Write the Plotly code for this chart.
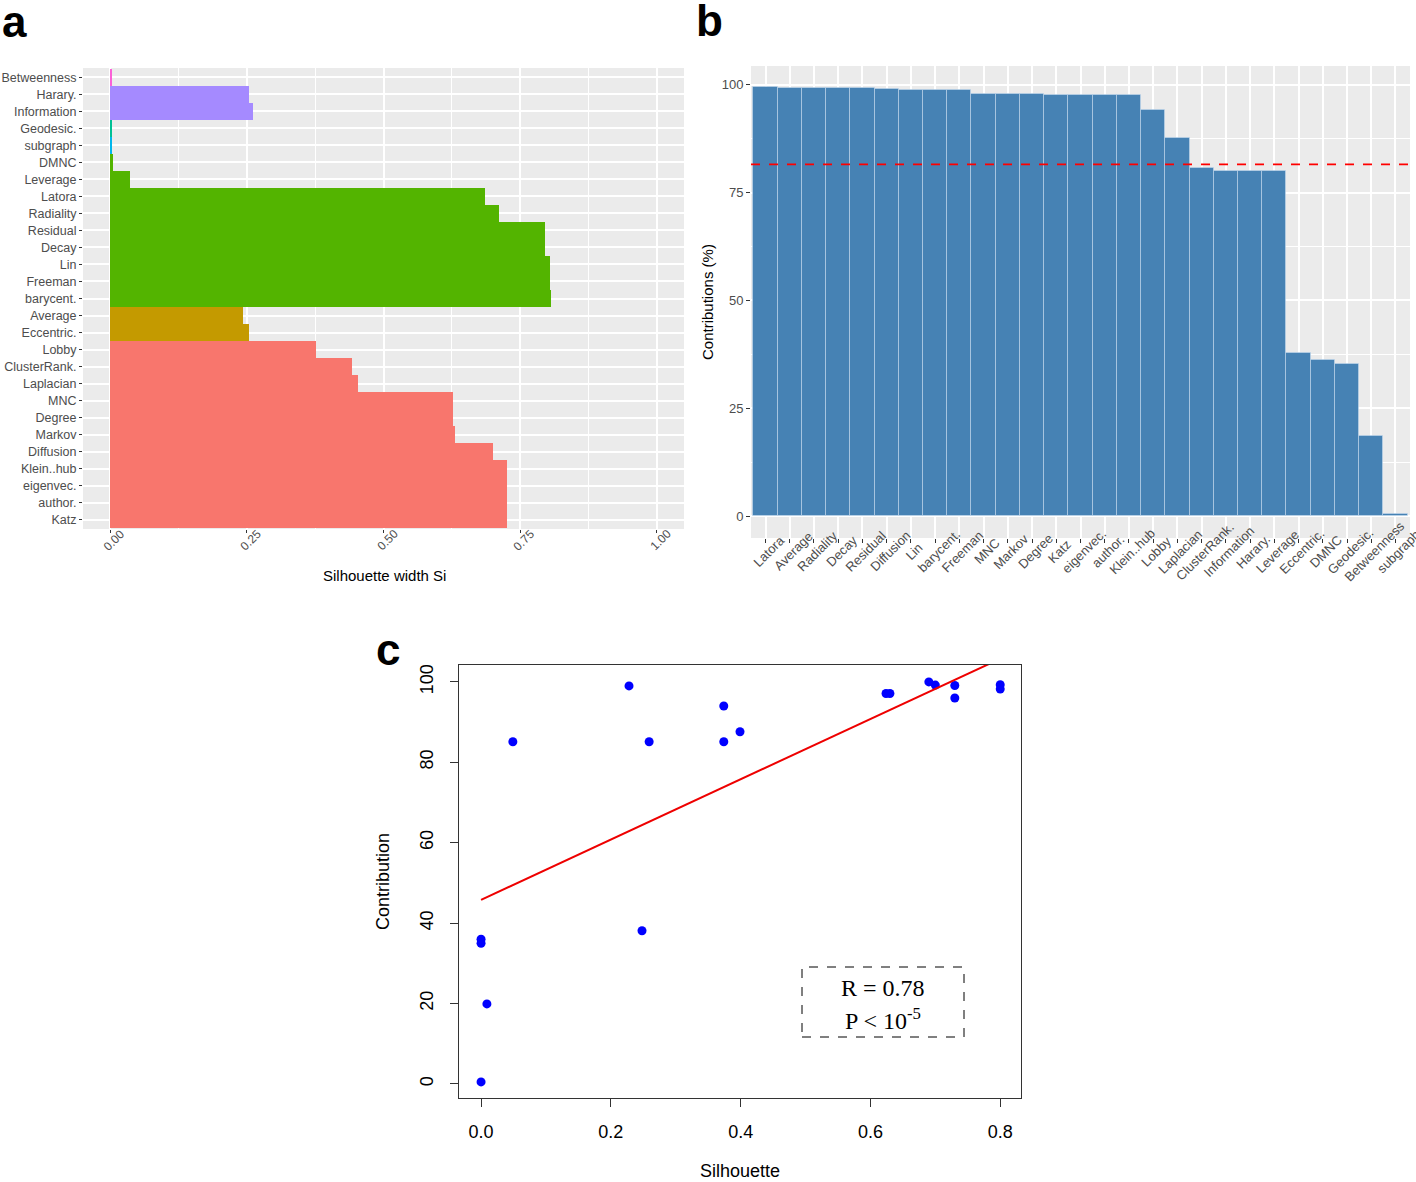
import plotly.graph_objects as go

# ---------------- data ----------------
# Panel a: silhouette widths (top to bottom)
a_names = ["Betweenness", "Harary.", "Information", "Geodesic.", "subgraph", "DMNC",
           "Leverage", "Latora", "Radiality", "Residual", "Decay", "Lin", "Freeman",
           "barycent.", "Average", "Eccentric.", "Lobby", "ClusterRank.", "Laplacian",
           "MNC", "Degree", "Markov", "Diffusion", "Klein..hub", "eigenvec.", "author.", "Katz"]
a_sil = [0.003, 0.254, 0.261, 0.003, 0.002, 0.004,
         0.036, 0.686, 0.712, 0.796, 0.796, 0.805, 0.805,
         0.806, 0.243, 0.254, 0.376, 0.443, 0.454,
         0.628, 0.628, 0.630, 0.700, 0.726, 0.726, 0.726, 0.726]
a_cluster = [7, 6, 6, 4, 5, 3,
             3, 3, 3, 3, 3, 3, 3,
             3, 2, 2, 1, 1, 1,
             1, 1, 1, 1, 1, 1, 1, 1]
cluster_colors = {1: "#F8766D", 2: "#C49A00", 3: "#53B400", 4: "#00C094",
                  5: "#00B6EB", 6: "#A58AFF", 7: "#FB61D7"}
a_xticks = [0, 0.25, 0.5, 0.75, 1.0]
a_xticklabels = ["0.00", "0.25", "0.50", "0.75", "1.00"]

# Panel b: contributions (%)
b_names = ["Latora", "Average", "Radiality", "Decay", "Residual", "Diffusion", "Lin",
           "barycent.", "Freeman", "MNC", "Markov", "Degree", "Katz", "eigenvec.",
           "author.", "Klein..hub", "Lobby", "Laplacian", "ClusterRank.", "Information",
           "Harary.", "Leverage", "Eccentric.", "DMNC", "Geodesic.", "Betweenness", "subgraph"]
b_vals = [99.5, 99.2, 99.2, 99.2, 99.2, 98.9, 98.8,
          98.8, 98.8, 97.8, 97.8, 97.8, 97.5, 97.5,
          97.5, 97.5, 94.2, 87.7, 80.6, 80.1,
          80.1, 79.9, 37.9, 36.3, 35.3, 18.7, 0.5]
b_threshold = 81.5
b_yticks = [0, 25, 50, 75, 100]

# Panel c: silhouette vs contribution
c_sil = [0.0, 0.0, 0.0, 0.009, 0.049, 0.228, 0.248, 0.259, 0.374, 0.374, 0.399,
         0.624, 0.630, 0.690, 0.700, 0.730, 0.730, 0.800, 0.800]
c_contrib = [0.5, 36.0, 35.0, 19.9, 85.1, 99.0, 38.1, 85.1, 94.0, 85.1, 87.6,
             97.1, 97.1, 100.0, 99.2, 99.1, 96.0, 99.3, 98.2]
fit_x = [0.0, 0.85]
fit_y = [45.8, 109.5]
c_xticks = [0.0, 0.2, 0.4, 0.6, 0.8]
c_xticklabels = ["0.0", "0.2", "0.4", "0.6", "0.8"]
c_yticks = [0, 20, 40, 60, 80, 100]

# ---------------- layout helpers ----------------
W, H = 1416, 1182
def px_x(p):
    return p / W
def px_y(p):
    return 1 - p / H

SANS = "Liberation Sans, Arial, sans-serif"
SERIF = "Liberation Serif, Times New Roman, serif"
GRAY30 = "#4D4D4D"
BG = "#EBEBEB"

fig = go.Figure()

# Panel a bars
fig.add_trace(go.Bar(
    x=a_sil, y=a_names, orientation="h", width=1,
    marker=dict(color=[cluster_colors[c] for c in a_cluster], line=dict(width=0)),
    xaxis="x", yaxis="y", showlegend=False, hoverinfo="x+y"))

# Panel b bars
fig.add_trace(go.Bar(
    x=b_names, y=b_vals, width=1,
    marker=dict(color="#4682B4", line=dict(color="rgba(200,220,240,0.55)", width=1)),
    xaxis="x2", yaxis="y2", showlegend=False))

# Panel c scatter + fit
fig.add_trace(go.Scatter(
    x=c_sil, y=c_contrib, mode="markers",
    marker=dict(color="#0000FF", size=9),
    xaxis="x3", yaxis="y3", showlegend=False))
fig.add_trace(go.Scatter(
    x=fit_x, y=fit_y, mode="lines",
    line=dict(color="#EE0000", width=2),
    xaxis="x3", yaxis="y3", showlegend=False))

grid_major = dict(showgrid=True, gridcolor="white", gridwidth=1.5)

fig.update_layout(
    width=W, height=H,
    margin=dict(l=0, r=0, t=0, b=0, autoexpand=False),
    paper_bgcolor="white", plot_bgcolor="white",
    font=dict(family=SANS, color="black"),
    bargap=0,
    # ---- panel a ----
    xaxis=dict(
        domain=[px_x(83), px_x(684)], anchor="y", automargin=False,
        range=[-0.05, 1.05], tickvals=a_xticks, showticklabels=False,
        ticks="outside", ticklen=3, tickcolor="#333333",
        minor=dict(dtick=0.125, tick0=0, showgrid=True, gridcolor="white", gridwidth=0.9),
        zeroline=False, showline=False, **grid_major),
    yaxis=dict(
        domain=[px_y(529), px_y(68)], anchor="x", automargin=False,
        type="category", categoryorder="array", categoryarray=list(reversed(a_names)),
        range=[-0.55, len(a_names) - 0.45],
        ticks="outside", ticklen=3, tickcolor="#333333",
        tickfont=dict(size=12.5, color=GRAY30, family=SANS),
        zeroline=False, showline=False, **grid_major),
    # ---- panel b ----
    xaxis2=dict(
        domain=[px_x(751), px_x(1410)], anchor="y2", automargin=False,
        type="category", categoryorder="array", categoryarray=b_names,
        range=[-0.6, len(b_names) - 0.4],
        showticklabels=False, ticks="outside", ticklen=4, tickcolor="#333333",
        zeroline=False, showline=False, **grid_major),
    yaxis2=dict(
        domain=[px_y(538), px_y(66)], anchor="x2", automargin=False,
        range=[-5, 104.3], tickvals=b_yticks,
        ticks="outside", ticklen=4, tickcolor="#333333",
        tickfont=dict(size=13, color=GRAY30, family=SANS),
        minor=dict(dtick=12.5, tick0=0, showgrid=True, gridcolor="white", gridwidth=0.9),
        zeroline=False, showline=False, **grid_major),
    # ---- panel c ----
    xaxis3=dict(
        domain=[px_x(459), px_x(1021)], anchor="y3", automargin=False,
        range=[-0.034, 0.832], tickvals=c_xticks, ticktext=c_xticklabels,
        ticks="outside", ticklen=8, tickcolor="#333333",
        tickfont=dict(size=18, color="black", family=SANS),
        ticklabelstandoff=9,
        showline=True, mirror=True, linecolor="#333333", linewidth=1,
        showgrid=False, zeroline=False),
    yaxis3=dict(
        domain=[px_y(1098), px_y(665)], anchor="x3", automargin=False,
        range=[-3.5, 104.2], tickvals=c_yticks,
        tickangle=-90,
        ticks="outside", ticklen=8, tickcolor="#333333",
        tickfont=dict(size=18, color="black", family=SANS),
        ticklabelstandoff=10,
        showline=True, mirror=True, linecolor="#333333", linewidth=1,
        showgrid=False, zeroline=False),
)

# grey panel backgrounds for ggplot-style panels
for xr, yr in (("x domain", "y domain"), ("x2 domain", "y2 domain")):
    fig.add_shape(type="rect", xref=xr, yref=yr, x0=0, x1=1, y0=0, y1=1,
                  fillcolor=BG, line=dict(width=0), layer="below")

# threshold line in panel b
fig.add_shape(type="line", xref="x2 domain", yref="y2", x0=0, x1=1,
              y0=b_threshold, y1=b_threshold,
              line=dict(color="#FF0000", width=1.8, dash="dash"))

def label(x, y, text, size, family=SANS, color="black", angle=0, xref="paper", xshift=0):
    fig.add_annotation(x=x, y=y, xref=xref, yref="paper", text=text,
                       showarrow=False, textangle=angle, xshift=xshift,
                       xanchor="center", yanchor="middle",
                       font=dict(size=size, family=family, color=color))

# panel a rotated x tick labels (centred under ticks, like ggplot)
for v, t in zip(a_xticks, a_xticklabels):
    label(v, px_y(540), t, 12, color=GRAY30, angle=-45, xref="x", xshift=4)

# panel b rotated category labels (centred, like ggplot)
for name in b_names:
    label(name, px_y(551), name, 13, color=GRAY30, angle=-45, xref="x2", xshift=3)

# axis titles
label(px_x(384), px_y(575), "Silhouette width Si", 15)
label(px_x(707), px_y(302), "Contributions (%)", 15, angle=-90)
label(px_x(740), px_y(1171), "Silhouette", 18)
label(px_x(383), px_y(882), "Contribution", 18, angle=-90)

# stats box in panel c
fig.add_shape(type="rect", xref="paper", yref="paper",
              x0=px_x(802), x1=px_x(964), y0=px_y(1037), y1=px_y(967),
              line=dict(color="black", width=1, dash="dash"), fillcolor="rgba(0,0,0,0)")
label(px_x(883), px_y(988), "R = 0.78", 24, family=SERIF)
label(px_x(883), px_y(1019), "P < 10<sup>-5</sup>", 24, family=SERIF)

# panel letters
for letter, (lx, ly) in {"a": (14, 22), "b": (710, 21), "c": (388, 650)}.items():
    label(px_x(lx), px_y(ly), "<b>%s</b>" % letter, 44)

fig.write_html("out.html", config={"displayModeBar": False},
               post_script="document.body.style.margin='0px';document.body.style.overflow='hidden';")
